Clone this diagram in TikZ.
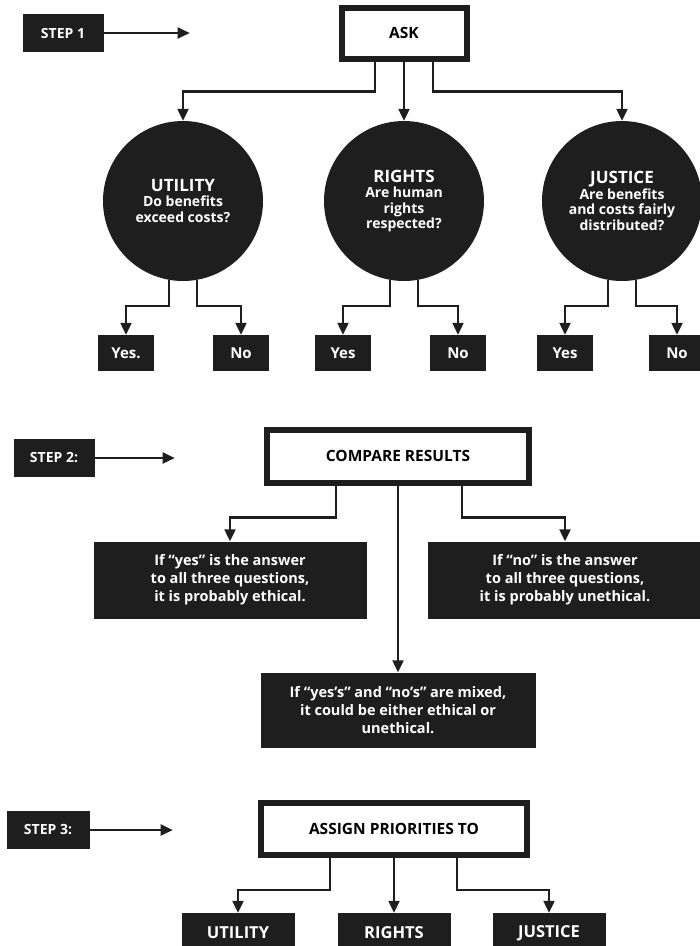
\documentclass[tikz,border=0pt]{standalone}
\usepackage{fontspec}
\setmainfont{Open Sans}
\usetikzlibrary{positioning,arrows.meta}
\definecolor{inkdark}{HTML}{1E1E1E}
\tikzset{
    every node/.style={font=\bfseries},
    stepbox/.style={rectangle,fill=inkdark,text=white,minimum width=81pt,minimum height=38pt,inner sep=0pt,font=\bfseries\fontsize{14}{16}\selectfont},
    headbox/.style={rectangle,draw=inkdark,fill=white,line width=6pt,inner sep=0pt,font=\bfseries\fontsize{15.5}{17}\selectfont},
    bubble/.style={circle,fill=inkdark,text=white,minimum size=160pt,inner sep=0pt,align=center,font=\bfseries\fontsize{14}{15.5}\selectfont},
    verdict/.style={rectangle,fill=inkdark,text=white,minimum width=56pt,minimum height=36pt,inner sep=0pt,font=\bfseries\fontsize{15}{17}\selectfont},
    outcome/.style={rectangle,fill=inkdark,text=white,minimum height=77pt,inner sep=0pt,align=center,font=\bfseries\fontsize{14.5}{18}\selectfont},
    priority/.style={rectangle,fill=inkdark,text=white,minimum width=113pt,minimum height=40pt,inner sep=0pt,font=\bfseries\fontsize{16.5}{19}\selectfont},
    elbow/.style={to path={-- ++(0,#1) -| (\tikztotarget)}},
    every edge/.style={draw=inkdark,-{Triangle[length=12pt,width=11pt]},line width=2.2pt}
}
\newcommand{\bubbletitle}[1]{{\fontsize{17}{18}\selectfont #1}}

\begin{document}
\begin{tikzpicture}[x=1pt,y=-1pt,node distance=86pt]
    \path[use as bounding box,fill=white] (0,0) rectangle (700,946);

    % step 1: ask
    \node[stepbox] (step1) at (63,33) {STEP 1};
    \coordinate[right=of step1] (step1end);
    \node[headbox,minimum width=125pt,minimum height=51pt] (ask) at (404,33) {ASK};
    \node[bubble] (utl) at (183,201) {\bubbletitle{UTILITY}\\Do benefits\\exceed costs?};
    \node[bubble] (rgt) at (404,201) {\bubbletitle{RIGHTS}\\Are human\\rights\\respected?};
    \node[bubble] (jus) at (622,201) {\bubbletitle{JUSTICE}\\Are benefits\\and costs fairly\\distributed?};
    \node[verdict] (utlyes) at (126,353) {Yes.};
    \node[verdict] (utlno) at (241,353) {No};
    \node[verdict] (rgtyes) at (343,353) {Yes};
    \node[verdict] (rgtno) at (458,353) {No};
    \node[verdict] (jusyes) at (565,353) {Yes};
    \node[verdict] (jusno) at (677,353) {No};
    \path
    (step1) edge (step1end)
    ([xshift=-29pt]ask.south) edge[elbow=30] (utl)
    (ask) edge (rgt)
    ([xshift=29pt]ask.south) edge[elbow=30] (jus)
    (utl.-100) edge[elbow=26] (utlyes)
    (utl.-80) edge[elbow=26] (utlno)
    (rgt.-100) edge[elbow=26] (rgtyes)
    (rgt.-80) edge[elbow=26] (rgtno)
    (jus.-100) edge[elbow=26] (jusyes)
    (jus.-80) edge[elbow=26] (jusno);

    % step 2: compare
    \node[stepbox] (step2) at (54,458) {STEP 2:};
    \coordinate[right=80pt of step2] (step2end);
    \node[headbox,minimum width=262pt,minimum height=53pt] (cmp) at (398,456) {COMPARE RESULTS};
    \node[outcome,minimum width=273pt] (allyes) at (230,580) {If “yes” is the answer\\to all three questions,\\it is probably ethical.};
    \node[outcome,minimum width=274pt] (allno) at (565,580) {If “no” is the answer\\to all three questions,\\it is probably unethical.};
    \node[outcome,minimum width=275pt,minimum height=75pt] (mixed) at (398,710) {If “yes’s” and “no’s” are mixed,\\it could be either ethical or\\unethical.};
    \path
    (step2) edge (step2end)
    ([xshift=-62pt]cmp.south) edge[elbow=32] (allyes)
    (cmp) edge (mixed)
    ([xshift=64pt]cmp.south) edge[elbow=32] (allno);

    % step 3: priorities
    \node[stepbox,minimum width=83pt] (step3) at (48,830) {STEP 3:};
    \coordinate[right=83pt of step3] (step3end);
    \node[headbox,minimum width=266pt,minimum height=52pt] (assign) at (394,829) {ASSIGN PRIORITIES TO};
    \node[priority] (putl) at (238,933) {UTILITY};
    \node[priority] (prgt) at (394,933) {RIGHTS};
    \node[priority] (pjus) at (549,933) {JUSTICE};
    \path
    (step3) edge (step3end)
    ([xshift=-64pt]assign.south) edge[elbow=32] (putl)
    (assign) edge (prgt)
    ([xshift=63pt]assign.south) edge[elbow=32] (pjus);
\end{tikzpicture}
\end{document}
